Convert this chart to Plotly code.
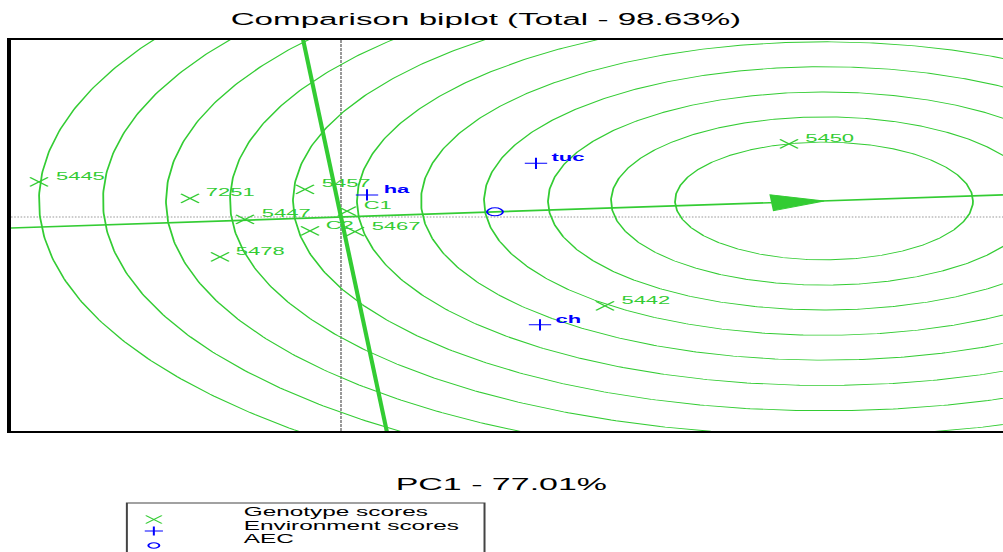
import numpy as np
import plotly.graph_objects as go

# ---------------- data ----------------
genotypes = ["5445", "7251", "5457", "C1", "5447", "C2", "5467", "5478", "5450", "5442"]
geno_pc1 = [-3.02, -1.51, -0.36, 0.06, -0.96, -0.31, 0.14, -1.21, 4.48, 2.64]
geno_pc2 = [0.89, 0.47, 0.70, 0.15, -0.06, -0.35, -0.37, -1.01, 1.85, -2.25]

environments = ["ha", "tuc", "ch"]
env_pc1 = [0.26, 1.95, 1.99]
env_pc2 = [0.56, 1.36, -2.73]

aec_pc1 = [1.54]
aec_pc2 = [0.13]

ideal_pc1 = [4.83]
ideal_pc2 = [0.405]
circle_radii = [1.49, 2.13, 2.76, 3.40, 4.03, 4.67, 5.31, 5.94, 6.58, 7.21, 7.85]

title_text = "Comparison biplot (Total - 98.63%)"
x_title = "PC1 - 77.01%"
legend_labels = ["Genotype scores", "Environment scores", "AEC"]

x_range = [-3.30, 6.62]
y_range = [-5.418, 4.481]

# ---------------- styling / layout constants ----------------
W, H = 502, 552
STRETCH = 1003 / W
GREEN = "#33cc33"
BLUE = "#0000ff"
FONT = "Liberation Sans, Arial, sans-serif"

fig = go.Figure()

# concentric circles around the ideal genotype
theta = np.linspace(0, 2 * np.pi, 721)
cx, cy = ideal_pc1[0], ideal_pc2[0]
xs, ys = [], []
for r in circle_radii:
    xs += list(cx + r * np.cos(theta)) + [None]
    ys += list(cy + r * np.sin(theta)) + [None]
fig.add_trace(go.Scatter(x=xs, y=ys, mode="lines", line=dict(color=GREEN, width=0.9),
                         hoverinfo="skip", showlegend=False))

# AEC abscissa (through origin and AEC)
ax, ay = aec_pc1[0], aec_pc2[0]
slope = ay / ax
fig.add_trace(go.Scatter(x=[x_range[0], x_range[1]], y=[slope * x_range[0], slope * x_range[1]],
                         mode="lines", line=dict(color=GREEN, width=1.6),
                         hoverinfo="skip", showlegend=False))
# AEC ordinate (perpendicular through origin)
pslope = -ax / ay  # dy/dx of perpendicular
fig.add_trace(go.Scatter(x=[y_range[0] / pslope, y_range[1] / pslope], y=[y_range[0], y_range[1]],
                         mode="lines", line=dict(color=GREEN, width=2.1),
                         hoverinfo="skip", showlegend=False))

# arrow head pointing to the ideal genotype
norm = np.hypot(ax, ay)
ux, uy = ax / norm, ay / norm
L, Hw = 0.52, 0.20
bx, by = cx - L * ux, cy - L * uy
fig.add_trace(go.Scatter(x=[cx, bx - Hw * uy, bx + Hw * uy, cx],
                         y=[cy, by + Hw * ux, by - Hw * ux, cy],
                         mode="lines", fill="toself", fillcolor=GREEN,
                         line=dict(color=GREEN, width=1), hoverinfo="skip", showlegend=False))

# genotype markers
fig.add_trace(go.Scatter(x=geno_pc1, y=geno_pc2, mode="markers",
                         marker=dict(symbol="x-thin", size=9, color=GREEN,
                                     line=dict(color=GREEN, width=1)),
                         showlegend=False, hoverinfo="skip"))
# environment markers
fig.add_trace(go.Scatter(x=env_pc1, y=env_pc2, mode="markers",
                         marker=dict(symbol="cross-thin", size=8, color=BLUE,
                                     line=dict(color=BLUE, width=1)),
                         showlegend=False, hoverinfo="skip"))
# AEC marker
fig.add_trace(go.Scatter(x=aec_pc1, y=aec_pc2, mode="markers",
                         marker=dict(symbol="circle-open", size=8, color=BLUE,
                                     line=dict(color=BLUE, width=1)),
                         showlegend=False, hoverinfo="skip"))

annotations = []
for name, x, y in zip(genotypes, geno_pc1, geno_pc2):
    annotations.append(dict(x=x, y=y, xref="x", yref="y", text=name, showarrow=False,
                            xanchor="left", yanchor="middle", xshift=6, yshift=6,
                            font=dict(family=FONT, size=11, color=GREEN)))
for name, x, y in zip(environments, env_pc1, env_pc2):
    annotations.append(dict(x=x, y=y, xref="x", yref="y", text="<b>" + name + "</b>",
                            showarrow=False, xanchor="left", yanchor="middle",
                            xshift=6, yshift=6,
                            font=dict(family=FONT, size=11, color=BLUE)))

# x axis title
annotations.append(dict(x=0.5, y=(H - 484) / H, xref="paper", yref="paper", text=x_title,
                        showarrow=False, xanchor="center", yanchor="middle",
                        font=dict(family=FONT, size=17, color="black")))

# ---------------- custom legend (pixel-like axes below plot) ----------------
leg_marker_x = 77
leg_rows_text = [512, 525.5, 539]
leg_rows_mark = [519.5, 531, 545.5]
fig.add_trace(go.Scatter(x=[leg_marker_x], y=[leg_rows_mark[0]], xaxis="x2", yaxis="y2",
                         mode="markers", marker=dict(symbol="x-thin", size=8, color=GREEN,
                                                     line=dict(color=GREEN, width=1)),
                         showlegend=False, hoverinfo="skip"))
fig.add_trace(go.Scatter(x=[leg_marker_x], y=[leg_rows_mark[1]], xaxis="x2", yaxis="y2",
                         mode="markers", marker=dict(symbol="cross-thin", size=6.5, color=BLUE,
                                                     line=dict(color=BLUE, width=1)),
                         showlegend=False, hoverinfo="skip"))
fig.add_trace(go.Scatter(x=[leg_marker_x], y=[leg_rows_mark[2]], xaxis="x2", yaxis="y2",
                         mode="markers", marker=dict(symbol="circle-open", size=5.5, color=BLUE,
                                                     line=dict(color=BLUE, width=1)),
                         showlegend=False, hoverinfo="skip"))
for lab, ty in zip(legend_labels, leg_rows_text):
    annotations.append(dict(x=119.5, y=ty, xref="x2", yref="y2", text=lab, showarrow=False,
                            xanchor="left", yanchor="middle",
                            font=dict(family=FONT, size=12.2, color="black")))

shapes = [
    # dotted origin lines
    dict(type="line", xref="x", yref="y", x0=x_range[0], x1=x_range[1], y0=0, y1=0,
         line=dict(color="#9a9a9a", width=1, dash="0.8px,0.8px"), layer="below"),
    dict(type="line", xref="x", yref="y", x0=0, x1=0, y0=y_range[0], y1=y_range[1],
         line=dict(color="#555555", width=0.6, dash="3px,1px"), layer="below"),
    # legend box
    dict(type="rect", xref="x2", yref="y2", x0=63.5, x1=242.5, y0=503, y1=600,
         line=dict(color="#444444", width=1), layer="above"),
]

fig.update_layout(
    width=W, height=H,
    margin=dict(l=0, r=0, t=0, b=0),
    paper_bgcolor="white", plot_bgcolor="white",
    title=dict(text=title_text, x=243.2 / W, xanchor="center", xref="container",
               y=1 - 19 / H, yanchor="middle", yref="container",
               font=dict(family=FONT, size=16.6, color="black")),
    xaxis=dict(domain=[5.5 / W, 1], range=x_range, showgrid=False, zeroline=False,
               showticklabels=False, ticks="", showline=True, mirror=True,
               linecolor="black", linewidth=2, anchor="y"),
    yaxis=dict(domain=[(H - 431) / H, (H - 40) / H], range=y_range, showgrid=False,
               zeroline=False, showticklabels=False, ticks="", showline=True, mirror=False,
               linecolor="black", linewidth=1.75, anchor="x"),
    xaxis2=dict(domain=[0, 1], range=[0, W], visible=False, anchor="y2"),
    yaxis2=dict(domain=[0, (H - 432) / H], range=[H, 432], visible=False, anchor="x2"),
    annotations=annotations,
    shapes=shapes,
    showlegend=False,
)

post = ("var gd=document.getElementById('{plot_id}');"
        "gd.style.transformOrigin='0 0';"
        "gd.style.transform='scale(" + repr(STRETCH) + ",1)';")
fig.write_html("out.html", post_script=post, config={"displayModeBar": False})
